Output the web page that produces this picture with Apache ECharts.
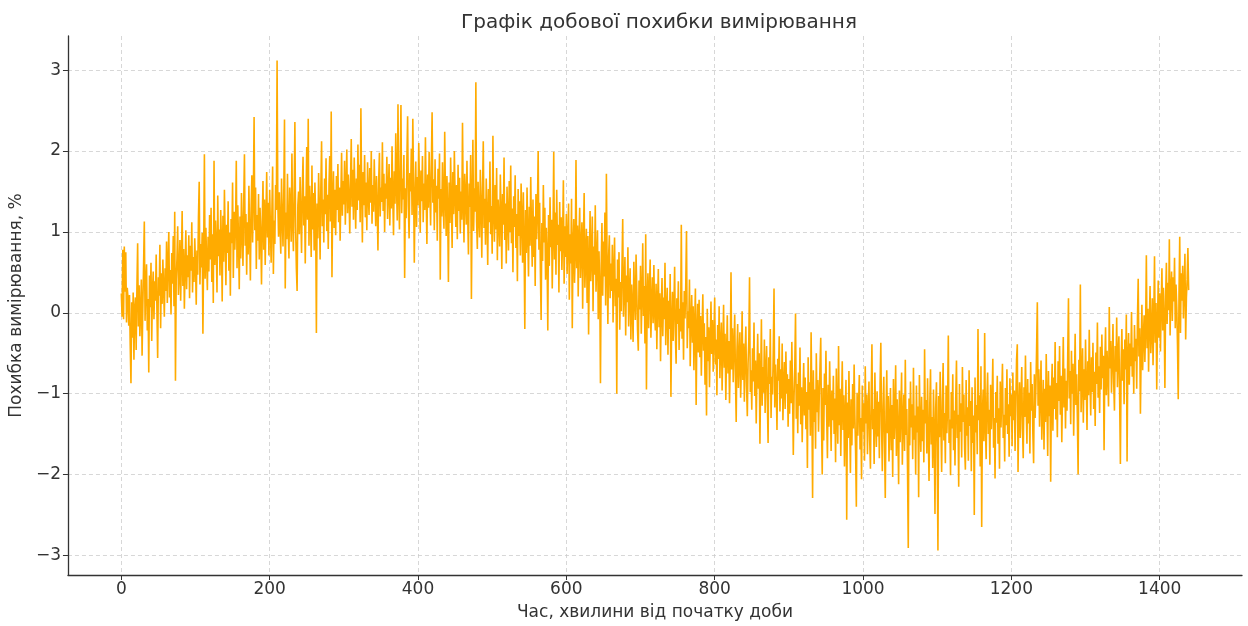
<!DOCTYPE html>
<html>
<head>
<meta charset="utf-8">
<title>Графік добової похибки вимірювання</title>
<script src="https://cdn.jsdelivr.net/npm/echarts@6/dist/echarts.min.js"></script>
<style>
  html, body { margin: 0; padding: 0; background: #fff; }
  #chart { width: 1248px; height: 626px; }
</style>
</head>
<body>
<div id="chart"></div>
<script>
// похибка, % — одне значення на кожну хвилину доби (рядок = 1 година)
const errorPct = [
  0.24,-0.05,0.78,-0.08,0.82,0.26,0.75,-0.12,0.31,0.18,-0.16,0.22,-0.4,-0.87,0.13,-0.31,0.25,-0.58,0.05,0.19,-0.46,0.29,0.86,-0.17,0.34,-0.29,0.02,0.41,-0.53,0.08,0.58,1.13,-0.1,0.33,0.6,-0.22,0.17,-0.74,0.46,0.07,0.62,-0.35,0.28,0.51,-0.08,0.39,0.15,0.72,0.03,-0.56,0.44,0.21,0.84,-0.19,0.49,0.11,0.66,0.3,-0.05,0.55,
  0.27,0.88,0.12,0.61,1.0,0.19,0.53,-0.02,0.74,0.36,0.95,0.08,1.25,-0.84,0.41,0.67,1.07,0.22,0.48,0.9,0.15,0.63,1.26,0.33,0.79,0.05,0.57,1.02,0.29,0.71,0.44,0.96,0.18,0.83,0.52,1.12,0.25,0.69,0.38,0.92,0.61,0.1,0.77,0.47,1.18,1.62,0.35,0.85,0.56,0.99,-0.26,0.73,1.96,0.42,1.05,0.64,0.28,0.94,0.51,1.21,
  0.66,1.3,0.38,0.97,0.12,1.88,0.59,1.14,0.81,0.25,1.45,0.7,1.03,0.46,1.27,0.88,0.14,1.2,0.63,1.52,0.95,0.34,1.09,0.74,1.38,0.52,0.99,0.21,1.16,0.86,1.61,0.43,1.25,0.78,1.07,1.88,0.55,1.33,0.92,0.29,1.19,0.67,1.48,1.01,0.58,1.35,1.96,0.83,1.22,0.47,1.12,0.72,1.57,0.96,0.4,1.29,1.7,0.87,1.43,2.42,
  1.02,1.55,0.54,1.21,0.89,1.47,0.66,1.3,0.98,0.35,1.12,1.63,0.78,1.4,0.59,1.18,1.74,0.93,1.36,0.71,1.52,1.05,0.62,1.25,1.81,0.48,1.14,0.85,1.58,1.27,3.12,1.37,0.94,1.49,1.08,0.73,1.66,1.19,0.82,1.43,2.39,0.3,1.24,0.91,1.72,1.03,0.67,1.55,1.31,0.88,1.97,1.12,0.76,1.4,2.36,1.06,0.55,0.27,1.33,1.5,
  0.97,1.68,1.21,0.74,1.52,1.93,1.08,1.44,0.61,1.36,2.05,1.15,2.4,0.83,1.57,1.26,0.69,1.82,1.03,1.48,0.77,1.61,1.19,-0.25,1.35,0.92,1.73,1.29,0.66,1.54,2.12,1.07,1.4,0.87,1.66,1.22,1.91,1.01,1.46,0.79,1.59,1.94,1.13,2.49,0.44,1.38,1.75,1.05,1.52,0.96,1.69,1.27,1.84,1.12,1.55,0.89,1.43,1.98,1.2,1.63,
  1.34,1.88,1.09,1.56,2.02,1.23,1.71,1.45,0.98,1.62,2.15,1.31,1.77,1.15,1.92,1.48,1.04,1.66,1.27,2.08,1.39,1.83,1.12,2.53,1.5,0.87,1.74,1.33,1.95,1.18,1.61,1.02,1.86,1.44,1.21,1.79,1.36,2.0,1.1,1.58,1.25,1.9,1.47,1.07,1.69,1.3,0.77,1.64,1.98,1.19,1.55,1.37,2.11,1.26,1.72,1.0,1.6,1.41,1.93,1.16,
  1.52,1.84,1.08,1.67,1.29,2.06,1.43,0.96,1.75,1.35,2.22,1.58,1.14,2.58,1.47,1.03,1.81,2.57,1.23,1.66,1.4,1.95,0.43,1.54,1.17,1.89,2.43,1.31,0.92,1.73,1.5,2.03,1.21,2.4,1.62,0.62,1.44,1.87,1.06,1.68,1.33,2.1,1.55,0.99,1.76,1.38,1.94,1.12,1.6,1.27,2.17,1.45,0.85,1.71,1.3,1.99,1.49,1.08,1.83,2.48,
  1.36,1.65,1.02,1.9,1.24,1.57,0.89,1.78,1.41,1.97,0.41,1.53,1.19,1.86,1.32,1.04,2.24,1.47,0.95,1.69,1.28,0.38,1.61,1.11,1.92,1.37,0.8,1.74,1.22,2.0,1.45,1.06,1.58,0.91,1.83,1.26,1.67,0.98,1.5,1.15,2.35,1.34,0.87,1.72,1.43,1.09,1.88,1.2,0.72,1.6,1.31,1.95,0.17,1.39,2.14,1.01,1.54,1.25,2.85,1.13,
  0.79,1.62,1.18,0.93,1.77,1.36,0.68,1.49,2.12,1.05,1.41,0.84,1.66,1.21,0.59,1.53,1.12,1.87,0.97,1.32,0.73,2.19,1.27,0.88,1.58,1.03,1.79,0.65,1.4,1.16,0.82,1.71,1.24,0.54,1.47,1.09,1.92,0.9,1.35,0.61,1.56,1.19,0.77,1.63,1.0,1.82,0.86,1.29,0.5,1.44,1.06,1.7,0.8,1.22,0.39,1.53,0.95,1.38,0.71,1.6,
  1.14,0.62,1.49,0.88,-0.2,1.27,0.74,1.55,0.96,0.45,1.31,0.83,1.68,1.02,0.57,1.4,0.69,1.19,0.33,1.47,0.91,1.25,2.0,0.78,1.36,0.52,-0.09,1.11,0.64,1.58,0.87,1.3,0.41,1.05,0.72,-0.22,1.21,0.58,1.43,0.81,1.15,0.3,0.98,1.99,0.66,1.24,0.47,1.52,0.84,1.09,0.25,1.37,0.76,1.18,0.53,0.95,1.64,0.36,1.07,0.69,
  1.22,0.48,0.89,1.35,0.16,0.97,0.61,1.41,-0.19,0.83,1.16,0.37,0.74,1.89,0.55,1.08,0.2,0.92,1.3,0.43,0.79,1.12,0.05,0.86,1.48,0.31,0.67,1.04,0.12,0.95,-0.27,0.58,1.26,0.39,0.71,1.19,0.02,0.82,0.47,1.33,0.26,0.63,1.02,-0.08,0.76,0.34,-0.87,0.59,1.11,0.21,0.88,0.45,1.24,0.09,1.72,0.52,-0.14,0.7,0.96,0.18,
  0.61,0.27,0.84,-0.12,0.5,0.93,0.08,0.42,-1.0,0.66,0.19,0.75,-0.21,0.38,0.02,0.57,1.16,-0.05,0.31,0.69,-0.28,0.46,0.13,0.81,-0.17,0.24,0.55,-0.33,0.35,0.07,-0.36,0.63,0.18,-0.09,0.72,0.26,-0.22,-0.47,0.4,0.04,0.58,-0.26,0.21,0.86,-0.04,0.33,-0.38,0.97,-0.95,0.15,0.49,-0.19,0.27,0.66,-0.31,0.1,0.44,-0.13,0.59,0.01,
  -0.22,0.36,-0.45,0.12,0.54,-0.18,0.24,-0.6,0.07,0.43,-0.29,0.19,-0.08,0.62,-0.4,0.03,0.31,-0.52,0.15,-0.2,0.48,-1.04,-0.11,0.26,-0.35,0.09,0.57,-0.27,-0.63,0.18,-0.14,0.39,-0.46,0.05,-0.23,1.09,-0.32,0.13,-0.58,0.27,-0.07,0.35,1.01,-0.44,0.02,-0.19,0.41,-0.66,-0.1,0.22,-0.37,0.08,-0.71,-0.16,0.3,-1.14,-0.25,0.11,-0.49,0.16,
  -0.55,-0.04,-0.78,-0.21,0.23,-0.47,-0.13,-0.89,-0.3,-1.27,0.05,-0.6,-0.18,-0.92,-0.36,0.14,-0.51,-0.09,-0.73,-0.28,0.19,-0.64,-0.33,-1.02,-0.15,-0.57,0.08,-0.81,-0.4,-0.12,-0.96,-0.45,0.1,-0.68,-0.26,-1.08,-0.5,-0.03,-0.75,-0.35,-1.12,-0.58,0.5,-0.7,-0.19,-0.86,-0.42,-0.02,-0.79,-1.35,-0.48,-0.14,-0.93,-0.6,-0.24,-1.05,-0.66,0.02,-0.83,-0.38,
  -1.1,-0.52,-0.17,-0.91,-1.28,-0.63,-0.35,0.44,-0.98,-0.71,-1.2,-0.44,-0.85,-0.12,-1.03,-0.59,-1.37,-0.77,-0.26,-0.94,-0.5,-1.62,-0.81,-0.08,-1.15,-0.67,-0.99,-0.33,-1.24,-0.73,-0.41,-1.08,-1.61,-0.55,-0.88,-0.2,-1.3,-0.79,-1.01,-0.46,0.3,-1.17,-0.64,-0.93,-1.45,-0.57,-0.84,-0.29,-1.22,-0.7,-1.06,-0.38,-1.33,-0.9,-0.61,-1.19,-0.48,-1.0,-0.76,-1.41,
  -0.82,-1.25,-0.59,-1.12,-0.36,-0.97,-1.76,-1.04,-0.67,-0.01,-1.31,-0.88,-1.49,-0.74,-1.15,-0.43,-1.38,-0.92,-1.6,-1.07,-0.62,-1.27,-0.8,-1.44,-0.98,-1.92,-0.55,-1.2,-0.86,-1.52,-0.24,-1.09,-2.29,-0.71,-1.35,-0.95,-1.68,-0.5,-1.23,-0.83,-1.47,-1.03,-0.66,-0.31,-1.36,-2.0,-0.93,-1.58,-0.75,-1.14,-0.47,-1.29,-1.8,-0.89,-1.41,-0.6,-1.18,-1.71,-0.96,-1.33,
  -0.78,-1.5,-1.06,-1.85,-0.69,-1.24,-1.62,-0.41,-1.39,-0.94,-1.77,-1.16,-0.6,-1.45,-1.02,-1.9,-1.28,-0.83,-2.56,-1.11,-1.55,-0.72,-1.34,-1.98,-1.07,-1.64,-0.88,-1.43,-0.64,-1.26,-1.73,-2.4,-0.99,-1.52,-1.15,-0.77,-1.69,-1.3,-2.06,-0.9,-1.47,-1.12,-1.83,-0.66,-1.37,-1.01,-1.75,-1.21,-0.85,-1.58,-1.93,-1.05,-0.39,-1.44,-1.19,-1.87,-0.74,-1.32,-1.66,-0.97,
  -1.53,-1.1,-1.8,-0.88,-0.37,-1.41,-1.96,-1.17,-0.79,-1.62,-2.29,-1.25,-0.71,-1.49,-1.03,-1.84,-1.36,-0.93,-1.7,-1.14,-2.03,-0.82,-1.56,-1.28,-0.65,-1.77,-1.07,-1.45,-2.12,-0.96,-1.6,-1.22,-0.74,-1.88,-1.33,-1.01,-1.71,-0.58,-1.51,-1.19,-1.94,-2.91,-1.06,-1.64,-0.85,-1.42,-1.13,-1.81,-0.68,-1.57,-1.27,-2.0,-0.9,-1.48,-1.16,-2.28,-0.77,-1.39,-1.72,-1.04,
  -1.59,-1.2,-1.85,-0.45,-1.37,-1.08,-1.74,-0.81,-1.52,-2.08,-1.14,-0.7,-1.63,-1.29,-1.92,-0.95,-1.46,-2.49,-1.18,-0.86,-1.67,-2.94,-1.03,-1.54,-0.73,-1.4,-1.97,-1.11,-0.62,-1.58,-1.24,-1.86,-0.9,-1.49,-1.15,-0.28,-1.61,-1.32,-2.01,-0.98,-1.43,-0.76,-1.7,-1.21,-1.89,-1.06,-0.59,-1.55,-1.26,-2.15,-0.88,-1.47,-1.12,-1.79,-0.67,-1.35,-1.01,-1.68,-1.94,-0.83,
  -1.52,-1.17,-1.83,-0.71,-1.4,-1.09,-1.96,-0.92,-1.61,-1.27,-2.5,-0.8,-1.48,-1.14,-1.75,-0.2,-1.33,-1.02,-1.9,-0.66,-2.65,-1.23,-0.95,-1.59,-0.25,-1.38,-1.81,-1.06,-0.74,-1.5,-1.2,-1.88,-0.89,-1.44,-1.11,-0.57,-1.67,-1.3,-2.05,-0.98,-1.36,-0.78,-1.62,-1.18,-1.93,-0.85,-1.42,-1.04,-0.63,-1.55,-1.26,-1.84,-0.93,-1.39,-0.7,-1.5,-1.13,-1.78,-0.81,-1.28,
  -1.01,-1.65,-0.74,-1.33,-0.96,-1.71,-1.12,-0.58,-0.39,-1.97,-1.24,-0.86,-1.55,-1.07,-0.67,-1.44,-1.8,-0.92,-1.29,-0.53,-1.18,-1.62,-0.82,-1.37,-0.99,-1.74,-0.61,-1.21,-0.88,-1.5,-1.86,-0.76,-1.3,-0.97,-0.45,0.13,-1.15,-0.7,-1.41,-1.04,-0.59,-1.57,-1.22,-0.83,-1.69,-0.94,-1.35,-0.51,-1.11,-1.77,-0.72,-1.28,-0.9,-2.09,-1.0,-0.63,-1.46,-0.8,-1.19,-0.36,
  -1.32,-0.87,-1.54,-0.6,-1.09,-0.41,-1.26,-0.78,-1.6,-0.95,-0.3,-1.17,-0.69,-1.43,-0.84,-1.21,-0.52,0.18,-1.06,-0.72,-1.38,-0.47,-1.0,-0.63,-1.52,-0.89,-0.26,-1.14,-0.76,-1.3,-2.0,-0.58,-0.97,0.35,-1.23,-0.82,-0.44,-1.36,-0.7,-1.08,-0.33,-0.91,-1.45,-0.6,-1.02,-0.21,-0.85,-1.27,-0.55,-0.98,-0.37,-1.19,-0.73,-1.4,-0.49,-0.88,-0.12,-1.05,-0.66,-1.24,
  -0.42,-0.95,-0.27,-0.81,-0.53,-1.7,-0.64,-0.18,-1.02,-0.47,-0.76,-1.16,0.07,-0.69,-0.35,-0.99,-0.58,-0.14,-0.87,-1.21,-0.41,-0.73,-0.06,-0.92,-0.51,-0.29,-1.08,-1.87,-0.62,-0.2,-0.84,-0.45,-1.13,-0.33,-0.7,-0.02,-1.84,-0.56,-0.25,-0.89,-0.38,-0.66,0.01,-0.79,-0.43,-1.0,-0.15,-0.6,-0.32,-0.94,-0.08,0.42,-0.54,-0.19,-1.25,-0.47,0.1,-0.71,-0.3,-0.03,
  -0.61,-0.2,0.71,-0.44,0.05,-0.73,-0.12,0.33,-0.5,-0.26,0.18,-0.65,-0.09,0.7,-0.37,0.12,-0.95,-0.16,0.4,-0.31,0.24,-0.48,0.09,0.55,-0.22,0.31,-0.05,-0.93,0.2,0.62,-0.14,0.37,0.03,0.91,-0.28,0.26,0.51,-0.1,0.44,0.14,0.68,-0.19,0.35,0.07,-0.4,-1.07,0.22,0.94,-0.25,0.49,0.15,0.58,-0.07,0.3,0.73,-0.33,0.19,0.41,0.8,0.28
];

// мітки осей
const xTicks = [0, 200, 400, 600, 800, 1000, 1200, 1400];
const yTicks = [-3, -2, -1, 0, 1, 2, 3];

// хвилина від початку доби = номер відліку
const points = errorPct.map((v, i) => [i, v]);

const minus = (v) => String(v).replace('-', '\u2212');
const textColor = '#333';
const gridLine = { show: true, lineStyle: { type: [4, 3], color: '#cdcdcd', width: 0.8 } };

const chart = echarts.init(document.getElementById('chart'));
chart.setOption({
  animation: false,
  textStyle: { fontFamily: 'DejaVu Sans' },
  title: {
    text: 'Графік добової похибки вимірювання',
    left: 654,
    top: 8,
    textAlign: 'center',
    textStyle: { fontSize: 20, fontWeight: 'normal', color: textColor, fontFamily: 'DejaVu Sans' },
  },
  grid: { left: 67, right: 6, top: 36, bottom: 51, containLabel: false },
  xAxis: {
    type: 'value',
    min: -71.95,
    max: 1510.95,
    name: 'Час, хвилини від початку доби',
    nameLocation: 'middle',
    nameGap: 29,
    nameTextStyle: { fontSize: 17, color: textColor },
    axisLine: { onZero: false, lineStyle: { color: textColor, width: 1.3 } },
    axisTick: { customValues: xTicks, length: 5, lineStyle: { color: textColor } },
    axisLabel: { customValues: xTicks, fontSize: 17, color: textColor, margin: 6, formatter: minus },
    splitLine: gridLine,
  },
  yAxis: {
    type: 'value',
    min: -3.243,
    max: 3.423,
    name: 'Похибка вимірювання, %',
    nameLocation: 'middle',
    nameGap: 36,
    nameTextStyle: { fontSize: 17, color: textColor },
    axisLine: { show: true, onZero: false, lineStyle: { color: textColor, width: 1.3 } },
    axisTick: { show: true, customValues: yTicks, length: 5, lineStyle: { color: textColor } },
    axisLabel: { customValues: yTicks, fontSize: 17, color: textColor, margin: 7, formatter: minus },
    splitLine: gridLine,
  },
  series: [
    {
      type: 'line',
      data: points,
      symbol: 'none',
      sampling: null,
      lineStyle: { color: '#ffab00', width: 1.6 },
    },
  ],
});
</script>
</body>
</html>
